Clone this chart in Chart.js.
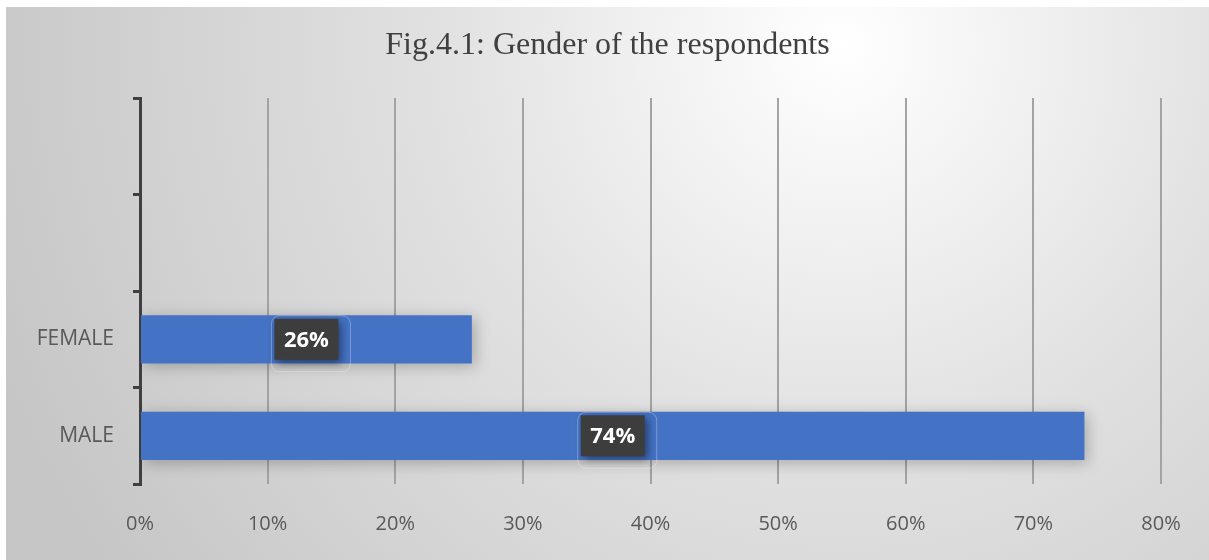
<!DOCTYPE html>
<html>
<head>
<meta charset="utf-8">
<script src="https://cdn.jsdelivr.net/npm/chart.js@4/dist/chart.umd.min.js"></script>
<style>
  html, body { margin: 0; padding: 0; background: #fff; }
  #wrap { width: 1209px; height: 560px; }
</style>
</head>
<body>
<div id="wrap"><canvas id="genderChart" width="1209" height="560"></canvas></div>
<script>
// two blank rows on top, like the source sheet
const categories = ['', '', 'FEMALE', 'MALE'];
const shares = [null, null, 26, 74];
const xTicks = [0, 10, 20, 30, 40, 50, 60, 70, 80];
const chartTitle = 'Fig.4.1: Gender of the respondents';

const frameBackground = {
    id: 'frameBackground',
    beforeDraw(chart) {
        const ctx = chart.ctx;
        const w = chart.width, h = chart.height;
        ctx.save();
        ctx.fillStyle = '#ffffff';
        ctx.fillRect(0, 0, w, h);
        const g = ctx.createRadialGradient(840, 45, 0, 840, 45, 900);
        g.addColorStop(0, '#ffffff');
        g.addColorStop(0.45, '#e1e1e1');
        g.addColorStop(1, '#c6c6c6');
        ctx.fillStyle = g;
        ctx.fillRect(6, 7, w - 6, h - 7);
        ctx.restore();
    }
};

// title centred on the whole frame, not on the padded box
const frameTitle = {
    id: 'frameTitle',
    afterDraw(chart) {
        const ctx = chart.ctx;
        ctx.save();
        ctx.fillStyle = '#404040';
        ctx.font = '32px "Liberation Serif", "Times New Roman", serif';
        ctx.textAlign = 'center';
        ctx.textBaseline = 'middle';
        ctx.fillText(chartTitle, (chart.width + 6) / 2, 46);
        ctx.restore();
    }
};

const barShadow = {
    id: 'barShadow',
    beforeDatasetsDraw(chart) {
        const ctx = chart.ctx;
        ctx.save();
        ctx.shadowColor = 'rgba(0,0,0,0.25)';
        ctx.shadowBlur = 14;
        ctx.shadowOffsetX = 3;
        ctx.shadowOffsetY = 3;
    },
    afterDatasetsDraw(chart) {
        chart.ctx.restore();
    }
};

const valueBoxes = {
    id: 'valueBoxes',
    afterDatasetsDraw(chart) {
        const ctx = chart.ctx;
        const meta = chart.getDatasetMeta(0);
        meta.data.forEach((bar, i) => {
            const v = shares[i];
            if (v == null) return;
            const cx = (bar.x + bar.base) / 2;
            const cy = bar.y;
            const bw = 64, bh = 41;
            ctx.save();
            // faint glow frame
            ctx.strokeStyle = 'rgba(255,255,255,0.3)';
            ctx.lineWidth = 1;
            ctx.beginPath();
            ctx.roundRect(cx - bw / 2 - 3, cy - bh / 2 - 3, bw + 15, bh + 15, 8);
            ctx.stroke();
            ctx.shadowColor = 'rgba(0,0,0,0.45)';
            ctx.shadowBlur = 8;
            ctx.shadowOffsetX = 3;
            ctx.shadowOffsetY = 3;
            ctx.fillStyle = '#3d3d3d';
            ctx.fillRect(cx - bw / 2, cy - bh / 2, bw, bh);
            ctx.shadowColor = 'transparent';
            ctx.fillStyle = '#ffffff';
            ctx.font = 'bold 22px "Open Sans"';
            ctx.textAlign = 'center';
            ctx.textBaseline = 'middle';
            ctx.fillText(v + '%', cx, cy + 1);
            ctx.restore();
        });
    }
};

new Chart(document.getElementById('genderChart'), {
    type: 'bar',
    data: {
        labels: categories,
        datasets: [{
            data: shares,
            backgroundColor: '#4472c4',
            borderWidth: 0,
            barPercentage: 0.5,
            categoryPercentage: 1
        }]
    },
    options: {
        indexAxis: 'y',
        responsive: false,
        animation: false,
        layout: { padding: { left: 0, right: 48, top: 98, bottom: 0 } },
        plugins: {
            legend: { display: false },
            tooltip: { enabled: false },
            title: { display: false }
        },
        scales: {
            x: {
                min: 0,
                max: 80,
                afterBuildTicks(scale) {
                    scale.ticks = xTicks.map(v => ({ value: v }));
                },
                afterFit(scale) {
                    scale.height = 76;
                },
                ticks: {
                    callback: v => v + '%',
                    color: '#595959',
                    font: { family: '"Open Sans"', size: 20 },
                    padding: 28
                },
                grid: { color: '#a3a3a3', lineWidth: 2, drawTicks: false },
                border: { display: false }
            },
            y: {
                afterFit(scale) {
                    scale.width = 140;
                },
                ticks: {
                    color: '#595959',
                    font: { family: '"Open Sans"', size: 21 },
                    padding: 19
                },
                grid: {
                    offset: true,
                    drawOnChartArea: false,
                    color: '#404040',
                    lineWidth: 3,
                    tickLength: 7
                },
                border: { color: '#404040', width: 3 }
            }
        }
    },
    plugins: [frameBackground, barShadow, valueBoxes, frameTitle]
});
</script>
</body>
</html>
